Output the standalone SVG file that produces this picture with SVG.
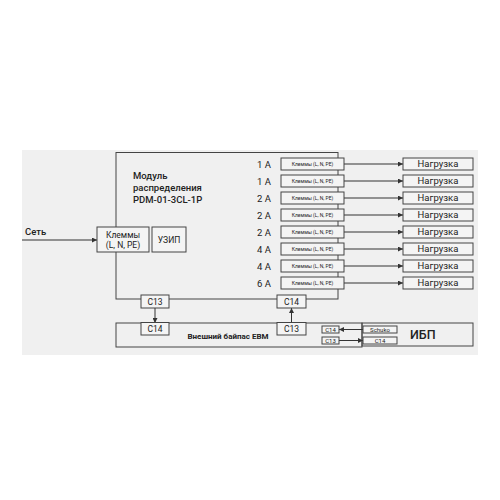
<svg xmlns="http://www.w3.org/2000/svg" width="500" height="500" viewBox="0 0 500 500">
<defs>
<marker id="ah" viewBox="0 0 10 10" refX="10" refY="5" markerWidth="5" markerHeight="5" orient="auto" markerUnits="userSpaceOnUse">
<path d="M0,0 L10,5 L0,10 z" fill="#333"/>
</marker>
<style>
.bx{fill:#f4f4f4;stroke:#444;stroke-width:1}
.ln{fill:none;stroke:#444;stroke-width:1}
.ar{fill:none;stroke:#333;stroke-width:1;marker-end:url(#ah)}
text{font-family:Roboto,"Liberation Sans",sans-serif;fill:#222}
.amp{font-size:9.5px;text-anchor:end}
.kl{font-size:5px;text-anchor:middle}
.ld{font-size:9.5px;text-anchor:middle}
.cc{font-size:8.5px;text-anchor:middle}
.sm{font-size:6px;text-anchor:middle}
</style>
</defs>
<rect x="22" y="150" width="456" height="205" fill="#f0f0f0"/>

<g id="module">
<rect x="116" y="152.5" width="222" height="146.5" class="ln"/>
<text x="133" y="179" font-size="9.5" font-weight="500">Модуль</text>
<text x="133" y="191" font-size="9.5" font-weight="500">распределения</text>
<text x="133" y="202.5" font-size="9.5" font-weight="500">PDM-01-3CL-1P</text>
</g>

<g id="bypass">
<rect x="116" y="323" width="246" height="24" class="ln"/>
<text x="228" y="339" font-size="8" font-weight="bold" text-anchor="middle">Внешний байпас EBM</text>
</g>

<g id="ups">
<rect x="362" y="323" width="111" height="23" class="ln"/>
<text x="410" y="339" font-size="12.5" font-weight="500">ИБП</text>
</g>

<g id="connectors">
<line x1="22" y1="240" x2="97" y2="240" class="ar"/>
<line x1="155" y1="308" x2="155" y2="323" class="ar"/>
<line x1="291.5" y1="323" x2="291.5" y2="308" class="ar"/>
<line x1="363" y1="329.5" x2="339" y2="329.5" class="ar"/>
<line x1="339" y1="340.5" x2="363" y2="340.5" class="ar"/>
<line x1="344" y1="164" x2="403" y2="164" class="ar"/>
<line x1="344" y1="181" x2="403" y2="181" class="ar"/>
<line x1="344" y1="198" x2="403" y2="198" class="ar"/>
<line x1="344" y1="215" x2="403" y2="215" class="ar"/>
<line x1="344" y1="232" x2="403" y2="232" class="ar"/>
<line x1="344" y1="249" x2="403" y2="249" class="ar"/>
<line x1="344" y1="266" x2="403" y2="266" class="ar"/>
<line x1="344" y1="283" x2="403" y2="283" class="ar"/>
</g>

<g id="set"><text x="25" y="234.5" font-size="9.5" font-weight="500">Сеть</text></g>

<g id="klemmy-in">
<rect x="97" y="227" width="52" height="25" class="bx"/>
<text x="123" y="237.5" font-size="8.5" text-anchor="middle">Клеммы</text>
<text x="123" y="247.5" font-size="8.5" text-anchor="middle">(L, N, PE)</text>
</g>
<g id="uzip">
<rect x="152" y="227" width="34" height="25" class="bx"/>
<text x="169" y="243" font-size="8.5" text-anchor="middle">УЗИП</text>
</g>

<g id="c13-top"><rect x="141" y="295" width="28" height="13" class="bx"/><text x="155" y="304.8" class="cc">C13</text></g>
<g id="c14-top"><rect x="277" y="295" width="29" height="13" class="bx"/><text x="291.5" y="304.8" class="cc">C14</text></g>
<g id="c14-bypass"><rect x="141" y="322.5" width="28" height="12.5" class="bx"/><text x="155" y="332" class="cc">C14</text></g>
<g id="c13-bypass"><rect x="277" y="322.5" width="29" height="12.5" class="bx"/><text x="291.5" y="332" class="cc">C13</text></g>
<g id="c14-small"><rect x="322" y="326" width="17" height="7" class="bx"/><text x="330.5" y="331.6" class="sm">C14</text></g>
<g id="c13-small"><rect x="322" y="337" width="17" height="7" class="bx"/><text x="330.5" y="342.6" class="sm">C13</text></g>
<g id="schuko"><rect x="363" y="326" width="34" height="7" class="bx"/><text x="380" y="331.6" class="sm">Schuko</text></g>
<g id="c14-ups"><rect x="363" y="337" width="34" height="7" class="bx"/><text x="380" y="342.6" class="sm">C14</text></g>

<g id="row1"><text x="271" y="167.5" class="amp">1 A</text><rect x="281" y="158" width="63" height="12" class="bx"/><text x="312.5" y="165.8" class="kl">Клеммы (L, N, PE)</text></g>
<g id="row2"><text x="271" y="184.5" class="amp">1 A</text><rect x="281" y="175" width="63" height="12" class="bx"/><text x="312.5" y="182.8" class="kl">Клеммы (L, N, PE)</text></g>
<g id="row3"><text x="271" y="201.5" class="amp">2 A</text><rect x="281" y="192" width="63" height="12" class="bx"/><text x="312.5" y="199.8" class="kl">Клеммы (L, N, PE)</text></g>
<g id="row4"><text x="271" y="218.5" class="amp">2 A</text><rect x="281" y="209" width="63" height="12" class="bx"/><text x="312.5" y="216.8" class="kl">Клеммы (L, N, PE)</text></g>
<g id="row5"><text x="271" y="235.5" class="amp">2 A</text><rect x="281" y="226" width="63" height="12" class="bx"/><text x="312.5" y="233.8" class="kl">Клеммы (L, N, PE)</text></g>
<g id="row6"><text x="271" y="252.5" class="amp">4 A</text><rect x="281" y="243" width="63" height="12" class="bx"/><text x="312.5" y="250.8" class="kl">Клеммы (L, N, PE)</text></g>
<g id="row7"><text x="271" y="269.5" class="amp">4 A</text><rect x="281" y="260" width="63" height="12" class="bx"/><text x="312.5" y="267.8" class="kl">Клеммы (L, N, PE)</text></g>
<g id="row8"><text x="271" y="286.5" class="amp">6 A</text><rect x="281" y="277" width="63" height="12" class="bx"/><text x="312.5" y="284.8" class="kl">Клеммы (L, N, PE)</text></g>

<g id="load1"><rect x="403" y="158" width="70" height="12" class="bx"/><text x="438" y="167.4" class="ld">Нагрузка</text></g>
<g id="load2"><rect x="403" y="175" width="70" height="12" class="bx"/><text x="438" y="184.4" class="ld">Нагрузка</text></g>
<g id="load3"><rect x="403" y="192" width="70" height="12" class="bx"/><text x="438" y="201.4" class="ld">Нагрузка</text></g>
<g id="load4"><rect x="403" y="209" width="70" height="12" class="bx"/><text x="438" y="218.4" class="ld">Нагрузка</text></g>
<g id="load5"><rect x="403" y="226" width="70" height="12" class="bx"/><text x="438" y="235.4" class="ld">Нагрузка</text></g>
<g id="load6"><rect x="403" y="243" width="70" height="12" class="bx"/><text x="438" y="252.4" class="ld">Нагрузка</text></g>
<g id="load7"><rect x="403" y="260" width="70" height="12" class="bx"/><text x="438" y="269.4" class="ld">Нагрузка</text></g>
<g id="load8"><rect x="403" y="277" width="70" height="12" class="bx"/><text x="438" y="286.4" class="ld">Нагрузка</text></g>
</svg>
